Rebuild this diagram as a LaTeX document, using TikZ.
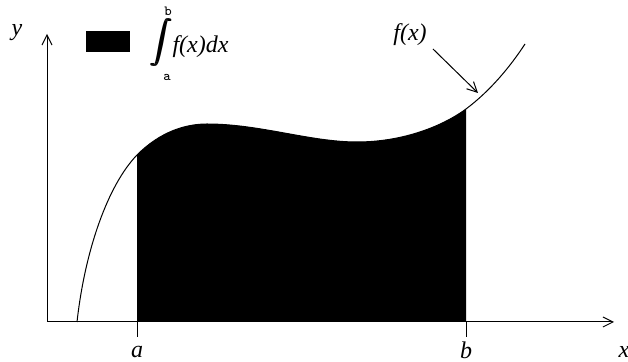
\documentclass[tikz,border=0pt]{standalone}
\usepackage{fontspec}
\setmainfont{Liberation Serif}
\usetikzlibrary{arrows.meta}
\begin{document}
\begin{tikzpicture}[x=0.5pt,y=-0.5pt, line width=0.5pt,
  lbl/.style={font=\fontsize{12}{14}\selectfont\itshape, inner sep=0pt},
  lim/.style={font=\fontsize{7}{8}\selectfont\ttfamily, inner sep=0pt},
  axisarrow/.style={-{Straight Barb[length=5pt,width=5pt]}}]
\useasboundingbox (0,0) rectangle (628,362);
\coordinate (O) at (47,322);
\coordinate (ytip) at (47,34);
\coordinate (xtip) at (614,322);
\coordinate (A) at (137,322);
\coordinate (B) at (466,322);
\coordinate (Aend) at (137,337);
\coordinate (Bend) at (466,337);
% filled area
\fill (A) -- (137,155) .. controls (160,132) and (185,124) .. (207,124)
  .. controls (260,124) and (310,142) .. (357,142)
  .. controls (400,142) and (440,128) .. (466,109) -- (B) -- cycle;
% curve
\draw (77,322) .. controls (85,250) and (108,185) .. (137,155)
  .. controls (160,132) and (185,124) .. (207,124)
  .. controls (260,124) and (310,142) .. (357,142)
  .. controls (400,142) and (440,128) .. (466,109)
  .. controls (490,91) and (510,67) .. (525,44);
% axes
\draw[axisarrow] (O) -- (ytip);
\draw[axisarrow] (O) -- (xtip);
\draw (A) -- (Aend);
\draw (B) -- (Bend);
\node[lbl] (ylab) at (17,33) {y};
\node[lbl] (alab) at (137,352) {a};
\node[lbl] (blab) at (466,350) {b};
\node[lbl] (xlab) at (624,352) {x};
% f(x) pointer
\node[lbl] (fx) at (410,35) {f(x)};
\coordinate (fxtail) at (433,49);
\coordinate (fxtip) at (478,93);
\draw[-{Straight Barb[length=5pt,width=5pt]}] (fxtail) -- (fxtip);
% legend
\node[fill, minimum width=22pt, minimum height=10.5pt, inner sep=0pt] (box) at (108,41.5) {};
\node[inner sep=0pt] (int) at (161,43) {\scalebox{1.08}{\rlap{\(\displaystyle\int\)}\kern0.4pt\rlap{\(\displaystyle\int\)}\kern0.4pt\(\displaystyle\int\)}};
\node[lim] (lb) at (168,11) {b};
\node[lim] (la) at (167,77) {a};
\node[lbl, anchor=west] (fxdx) at (172,47) {f(x)dx};
\end{tikzpicture}
\end{document}
